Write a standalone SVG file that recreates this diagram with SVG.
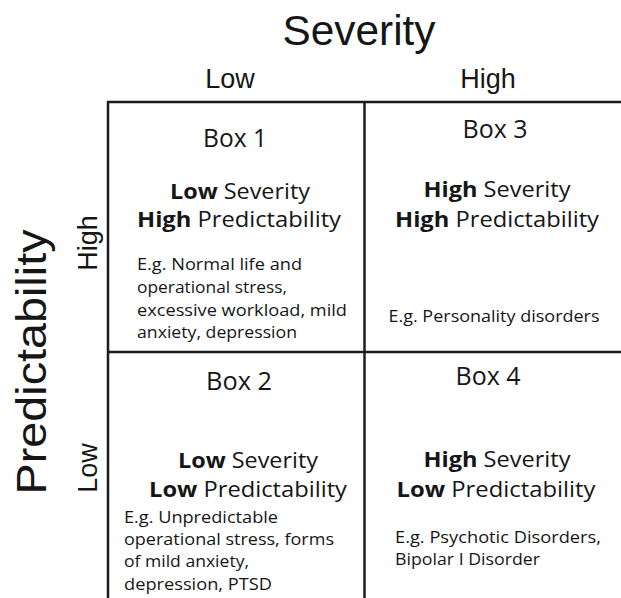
<svg xmlns="http://www.w3.org/2000/svg" width="621" height="598" viewBox="0 0 621 598">
<style>
text{fill:#161616;}
.ax{font-family:"Liberation Sans",Arial,sans-serif;}
.t{font-family:"Open Sans","Noto Sans",sans-serif;}
.h{font-size:26px;text-anchor:middle;}
.s{font-size:22px;text-anchor:middle;}
.b{font-weight:bold;}
.e{font-size:17px;}
.ec{font-size:17px;text-anchor:middle;}
.grid{stroke:#1c1c1c;stroke-width:2.5;fill:none;}
</style>
<rect width="621" height="598" fill="#ffffff"/>
<g id="axes">
<text class="ax" x="359" y="45" font-size="42" text-anchor="middle" textLength="153" lengthAdjust="spacingAndGlyphs">Severity</text>
<text class="ax" x="230" y="88" font-size="27" text-anchor="middle">Low</text>
<text class="ax" x="488" y="88" font-size="27" text-anchor="middle">High</text>
<text class="ax" transform="translate(46,362) rotate(-90)" font-size="43" text-anchor="middle" textLength="265" lengthAdjust="spacingAndGlyphs">Predictability</text>
<text class="ax" transform="translate(97,243) rotate(-90)" font-size="27" text-anchor="middle">High</text>
<text class="ax" transform="translate(97,468) rotate(-90)" font-size="27" text-anchor="middle">Low</text>
</g>
<g id="connectors" class="grid">
<line x1="107" y1="102" x2="621" y2="102"/>
<line x1="108" y1="101" x2="108" y2="598"/>
<line x1="364.5" y1="102" x2="364.5" y2="598"/>
<line x1="108" y1="352" x2="621" y2="352"/>
</g>
<g id="box1">
<text class="t h" x="235" y="147" textLength="64" lengthAdjust="spacingAndGlyphs">Box 1</text>
<text class="t s" x="240" y="199" textLength="140" lengthAdjust="spacingAndGlyphs"><tspan class="b">Low</tspan> Severity</text>
<text class="t s" x="239" y="227" textLength="204" lengthAdjust="spacingAndGlyphs"><tspan class="b">High</tspan> Predictability</text>
<text class="t e" x="137" y="270" textLength="165" lengthAdjust="spacingAndGlyphs">E.g. Normal life and</text>
<text class="t e" x="137" y="293" textLength="150" lengthAdjust="spacingAndGlyphs">operational stress,</text>
<text class="t e" x="137" y="316" textLength="210" lengthAdjust="spacingAndGlyphs">excessive workload, mild</text>
<text class="t e" x="137" y="338" textLength="160" lengthAdjust="spacingAndGlyphs">anxiety, depression</text>
</g>
<g id="box3">
<text class="t h" x="495" y="138" textLength="65" lengthAdjust="spacingAndGlyphs">Box 3</text>
<text class="t s" x="497" y="197" textLength="147" lengthAdjust="spacingAndGlyphs"><tspan class="b">High</tspan> Severity</text>
<text class="t s" x="497" y="227" textLength="204" lengthAdjust="spacingAndGlyphs"><tspan class="b">High</tspan> Predictability</text>
<text class="t ec" x="494" y="322" textLength="211" lengthAdjust="spacingAndGlyphs">E.g. Personality disorders</text>
</g>
<g id="box2">
<text class="t h" x="239" y="390" textLength="66" lengthAdjust="spacingAndGlyphs">Box 2</text>
<text class="t s" x="248" y="468" textLength="140" lengthAdjust="spacingAndGlyphs"><tspan class="b">Low</tspan> Severity</text>
<text class="t s" x="248" y="497" textLength="198" lengthAdjust="spacingAndGlyphs"><tspan class="b">Low</tspan> Predictability</text>
<text class="t e" x="124" y="523" textLength="154" lengthAdjust="spacingAndGlyphs">E.g. Unpredictable</text>
<text class="t e" x="124" y="545" textLength="210" lengthAdjust="spacingAndGlyphs">operational stress, forms</text>
<text class="t e" x="124" y="567" textLength="125" lengthAdjust="spacingAndGlyphs">of mild anxiety,</text>
<text class="t e" x="124" y="590" textLength="148" lengthAdjust="spacingAndGlyphs">depression, PTSD</text>
</g>
<g id="box4">
<text class="t h" x="488" y="385" textLength="65" lengthAdjust="spacingAndGlyphs">Box 4</text>
<text class="t s" x="497" y="467" textLength="147" lengthAdjust="spacingAndGlyphs"><tspan class="b">High</tspan> Severity</text>
<text class="t s" x="496" y="497" textLength="199" lengthAdjust="spacingAndGlyphs"><tspan class="b">Low</tspan> Predictability</text>
<text class="t e" x="395" y="543" textLength="206" lengthAdjust="spacingAndGlyphs">E.g. Psychotic Disorders,</text>
<text class="t e" x="395" y="565" textLength="145" lengthAdjust="spacingAndGlyphs">Bipolar I Disorder</text>
</g>
</svg>
